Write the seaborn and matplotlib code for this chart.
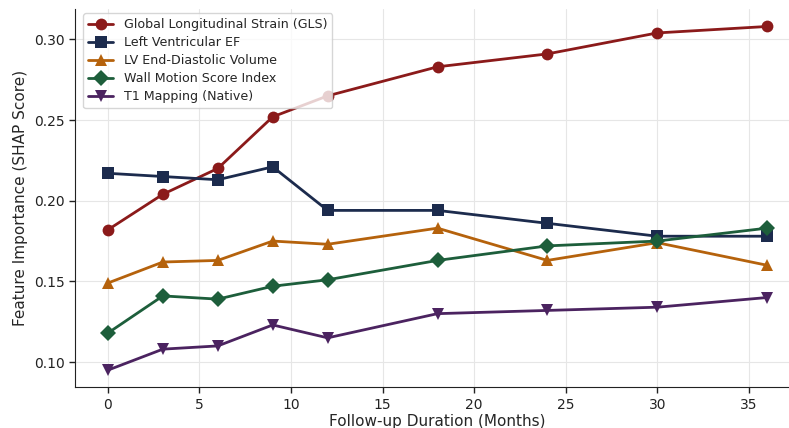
import matplotlib
matplotlib.use("Agg")
import matplotlib.pyplot as plt
import seaborn as sns
import pandas as pd

months = [0, 3, 6, 9, 12, 18, 24, 30, 36]
gls = [0.182, 0.204, 0.220, 0.252, 0.265, 0.283, 0.291, 0.304, 0.308]
lvef = [0.217, 0.215, 0.213, 0.221, 0.194, 0.194, 0.186, 0.178, 0.178]
lvedv = [0.149, 0.162, 0.163, 0.175, 0.173, 0.183, 0.163, 0.174, 0.160]
wmsi = [0.118, 0.141, 0.139, 0.147, 0.151, 0.163, 0.172, 0.175, 0.183]
t1 = [0.095, 0.108, 0.110, 0.123, 0.115, 0.130, 0.132, 0.134, 0.140]

names = ["Global Longitudinal Strain (GLS)", "Left Ventricular EF",
         "LV End-Diastolic Volume", "Wall Motion Score Index", "T1 Mapping (Native)"]
series = [gls, lvef, lvedv, wmsi, t1]
colors = ["#8b1a1a", "#1c2b4d", "#b5620c", "#1d5e3b", "#4b2360"]
markers = ["o", "s", "^", "D", "v"]

rows = []
for n, vals in zip(names, series):
    for m, v in zip(months, vals):
        rows.append({"Month": m, "Value": v, "Feature": n})
df = pd.DataFrame(rows)

sns.set_style("ticks", {"axes.grid": True, "grid.color": "#e6e6e6",
                        "axes.edgecolor": "#222222"})
plt.rcParams["font.family"] = ["DejaVu Sans"]

fig = plt.figure(figsize=(7.89, 4.28), dpi=100)
ax = fig.add_axes([75 / 789, 1 - 387.3 / 428, (800 - 75) / 789, (387.3 - 9.3) / 428])

sns.lineplot(data=df, x="Month", y="Value", hue="Feature", style="Feature",
             hue_order=names, style_order=names,
             palette=dict(zip(names, colors)), markers=dict(zip(names, markers)),
             dashes=False, linewidth=2, markersize=8.5, markeredgewidth=0,
             ax=ax)

sns.despine(ax=ax)
ax.grid(True, color="#e6e6e6", linewidth=0.8)
ax.set_axisbelow(True)
ax.set_xlabel("Follow-up Duration (Months)", fontsize=11, labelpad=1.5)
ax.set_ylabel("Feature Importance (SHAP Score)", fontsize=11)
ax.tick_params(labelsize=10, length=4, width=1, colors="#222222")
ax.set_xticks([0, 5, 10, 15, 20, 25, 30, 35])
ax.set_yticks([0.10, 0.15, 0.20, 0.25, 0.30])
ax.yaxis.set_major_formatter(matplotlib.ticker.FormatStrFormatter("%.2f"))

leg = ax.legend(loc="upper left", fontsize=9.1, frameon=True, framealpha=0.8,
                borderaxespad=0.3, labelspacing=0.4, handlelength=2.0,
                bbox_to_anchor=(0.006, 1.0))
leg.set_title(None)

fig.savefig("out.png", dpi=100)
